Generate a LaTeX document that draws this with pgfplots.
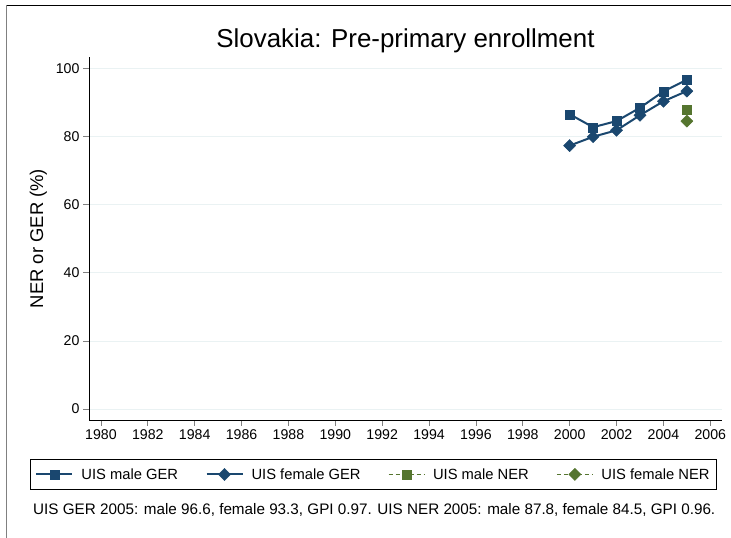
\documentclass[border=0pt]{standalone}
\usepackage{fontspec}
\setmainfont{Liberation Sans}
\usepackage{pgfplots}
\pgfplotsset{compat=1.18}
\definecolor{snavy}{RGB}{26,71,111}
\definecolor{sgreen}{RGB}{85,117,47}
\definecolor{sgrid}{RGB}{234,242,243}
\begin{document}
\begin{tikzpicture}[x=1bp,y=1bp]
\path[use as bounding box] (0,0) rectangle (731,538);
\fill[white] (0,0) rectangle (731,538);
\draw[black, line width=0.8bp] (6,533) -- (731,533);
\draw[gray, line width=0.8bp] (6,533) -- (6,0);
\begin{axis}[
  at={(89bp,118bp)}, anchor=south west, scale only axis,
  width=633bp, height=363bp,
  xmin=1979.49, xmax=2006.5, ymin=-3.2, ymax=103.3,
  axis x line*=bottom, axis y line*=left,
  axis line style={-, black, line width=0.8bp},
  xtick={1980,1982,...,2006}, ytick={0,20,...,100},
  tick align=outside, major tick length=6bp,
  tick style={gray, line width=0.8bp},
  x tick label style={font=\fontsize{14.2}{16}\selectfont, /pgf/number format/1000 sep={}},
  y tick label style={font=\fontsize{14.2}{16}\selectfont},
  /pgf/number format/assume math mode=true,
  ymajorgrids, grid style={sgrid, line width=0.8bp},
  ylabel={NER or GER (\%)},
  ylabel style={font=\fontsize{18.5}{20}\selectfont, xshift=0bp, yshift=2bp},
  title={Slovakia: Pre-primary enrollment},
  title style={font=\fontsize{26}{30}\selectfont, at={(0.5,1)}, anchor=base, yshift=4bp},
  legend columns=4,
  legend style={at={(-0.0932,-0.1074)}, anchor=north west, draw=black, line width=0.8bp,
    font=\fontsize{14.8}{17}\selectfont, inner xsep=5bp, inner ysep=7bp,
    /tikz/every even column/.append style={column sep=25.5bp}},
  legend image code/.code={\draw[#1, mark repeat=2, mark phase=2] plot coordinates {(0bp,0bp) (18bp,0bp) (36bp,0bp)}; \path (42bp,0bp);},
]
\addplot[snavy, line width=2bp, mark=square*, mark size=4.5bp, mark options={solid, line width=0.4bp}]
  coordinates {(2000,86.5) (2001,82.7) (2002,84.5) (2003,88.4) (2004,93.2) (2005,96.6)};
\addlegendentry{UIS male GER}
\addplot[snavy, line width=2bp, mark=square*, mark size=4.3bp, mark options={solid, rotate=45, line width=0.4bp}]
  coordinates {(2000,77.3) (2001,79.9) (2002,81.8) (2003,86.2) (2004,90.3) (2005,93.3)};
\addlegendentry{UIS female GER}
\addplot[sgreen, line width=1bp, dash pattern=on 4bp off 3bp, mark=square*, mark size=4.5bp, mark options={solid, line width=0.4bp}]
  coordinates {(2005,87.8)};
\addlegendentry{UIS male NER}
\addplot[sgreen, line width=1bp, dash pattern=on 4bp off 3bp, mark=square*, mark size=4.3bp, mark options={solid, rotate=45, line width=0.4bp}]
  coordinates {(2005,84.5)};
\addlegendentry{UIS female NER}
\end{axis}
\node[anchor=base west, font=\fontsize{15.3}{17}\selectfont, inner sep=0pt] at (33,23) {UIS GER 2005: male 96.6, female 93.3, GPI 0.97. UIS NER 2005: male 87.8, female 84.5, GPI 0.96.};
\end{tikzpicture}
\end{document}
